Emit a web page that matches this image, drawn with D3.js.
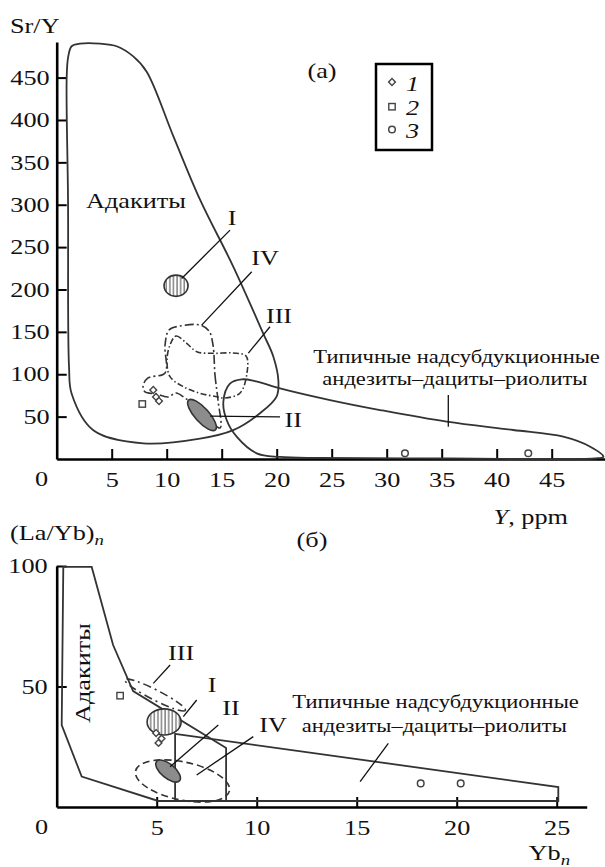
<!DOCTYPE html>
<html>
<head>
<meta charset="utf-8">
<script src="https://cdn.jsdelivr.net/npm/d3@7"></script>
<style>
  body { margin: 0; background: #fff; }
  svg { display: block; }
  text { font-family: "Liberation Serif", "Times New Roman", serif; fill: #111; }
</style>
</head>
<body>
<script>
// ---------- panel (a): Sr/Y vs Y ----------
const srYTicks = [50, 100, 150, 200, 250, 300, 350, 400, 450];
const yPpmTicks = [5, 10, 15, 20, 25, 30, 35, 40, 45];

// field outlines, [Y, Sr/Y]
const adakiteA = [
  [0.91, 451], [1.05, 475], [1.36, 487], [2.12, 490], [3.94, 490], [5.45, 487],
  [6.96, 475], [8.18, 457], [10.6, 381], [13.03, 306], [16.05, 227], [18.78, 148],
  [19.69, 121], [20.15, 93], [20.0, 74], [18.48, 54], [16.05, 34], [13.03, 24],
  [7.87, 18.5], [3.33, 34], [1.36, 77], [1.12, 109], [1.03, 306]
];
const typicalA = [
  [15.15, 67.6], [15.75, 89], [16.82, 94], [18.03, 92], [20.3, 83.4], [24.85, 69.6],
  [29.4, 57.8], [35.45, 44], [41.5, 34.2], [46.05, 26.3], [48.5, 14.5], [49.7, 2.7],
  [48.9, 0.6], [35.75, 0.6], [23.9, 1.2], [20.3, 2.4], [18.18, 6.7], [16.36, 26.3],
  [15.45, 46]
];
const fieldIIIA = [
  [10.3, 134.5], [10.85, 145.1], [11.82, 136.5], [12.73, 126.6], [14.24, 124.7],
  [16.03, 125.1], [17.21, 121.5], [17.3, 101.5], [16.67, 77.9], [15.3, 72],
  [14.55, 73.5], [13.03, 77.5], [11.51, 85.3], [10.3, 97.1], [10.03, 116.8]
];
const fieldIVA = [
  [14.21, 134.5], [14.39, 99.1], [14.66, 69.6], [14.85, 36.6], [13.03, 57.8],
  [11.66, 72], [10.85, 77.9], [10.12, 73.2], [9.03, 76.7], [8.03, 79.1], [7.85, 86.1],
  [8.3, 95.6], [9.85, 101.5], [9.85, 134.5], [10.21, 152.2], [11.21, 156.9],
  [13.03, 158.1], [13.85, 151]
];
// ellipses: [centre x, centre y, half-width (x units), half-height (y units), tilt deg]
const fieldIA = [10.85, 204.4, 1.09, 12.5, 0];
const fieldIIA = [13.21, 51.9, 1.82, 8.3, 48];

const diamondsA = [[8.78, 81.4], [9.03, 73.2], [9.3, 68.4]];
const squaresA = [[7.78, 64.9]];
const circlesA = [[31.66, 6.7], [42.87, 6.7]];

const labelsA = [
  { t: "I", at: [15.94, 276], from: [15.76, 270], to: [11.36, 213] },
  { t: "IV", at: [18.94, 229], from: [17.73, 221], to: [13.18, 158] },
  { t: "III", at: [20.21, 160], from: [19.39, 156], to: [17.42, 125] },
  { t: "II", at: [21.5, 37.8], from: [20.3, 49.6], to: [13.94, 50.7] }
];
const typicalTextA = [[36.35, 112.9], [36.2, 87.3]];
const typicalLeaderA = [[35.6, 75.5], [35.6, 38.1]];
const adakiteTextA = [7.2, 295.8];

// ---------- panel (б): (La/Yb)n vs Ybn ----------
const laYbTicks = [50, 100];
const ybTicks = [5, 10, 15, 20, 25];

const adakiteB = [
  [0.33, 99.6], [1.75, 99.6], [2.82, 67.2], [3.82, 48.1], [8.27, 25.5], [8.47, 24.5],
  [8.47, 2.5], [5.08, 2.5], [1.25, 12.6], [0.25, 34.0]
];
const typicalB = [[5.92, 30.3], [25.08, 8.3], [25.08, 2.5], [5.92, 2.5]];
const fieldIB = [5.37, 35.3, 0.85, 5.4, 0];
const fieldIIB = [5.57, 14.9, 0.75, 2.9, 40];
const fieldIIIB = [4.92, 46.5, 1.7, 2.1, 27];
const fieldIVB = [6.29, 10.8, 2.4, 7.9, 12];

const diamondsB = [[4.97, 30.7], [5.09, 26.6], [5.24, 28.4]];
const squaresB = [[3.17, 46.2]];
const circlesB = [[18.2, 9.8], [20.2, 9.8]];

const labelsB = [
  { t: "III", at: [6.22, 61.0], from: [5.67, 58.9], to: [4.83, 51.3] },
  { t: "I", at: [7.77, 47.8], from: [7.0, 44.4], to: [6.33, 37.5] },
  { t: "II", at: [8.72, 38.2], from: [8.08, 34.0], to: [5.67, 16.7] },
  { t: "IV", at: [10.82, 31.2], from: [9.83, 29.2], to: [7.0, 13.3] }
];
const typicalTextB = [[18.94, 41.0], [18.88, 31.2]];
const typicalLeaderB = [[16.58, 26.4], [15.17, 10.5]];
const adakiteTextB = [1.67, 55.6];

const typicalLines = ["Типичные надсубдукционные", "андезиты\u2013дациты\u2013риолиты"];

// ---------- drawing ----------
const W = 605, H = 867;
const FS = 21;
const K = 1.25; // the scanned glyphs are wider than Liberation Serif

const svg = d3.select("body").append("svg").attr("width", W).attr("height", H);

const defs = svg.append("defs");
const hatch = defs.append("pattern").attr("id", "hatch")
  .attr("patternUnits", "userSpaceOnUse").attr("width", 3.6).attr("height", 4);
hatch.append("rect").attr("width", 3.6).attr("height", 4).attr("fill", "#fff");
hatch.append("line").attr("x1", 1).attr("x2", 1).attr("y1", 0).attr("y2", 4)
  .attr("stroke", "#555").attr("stroke-width", 1.1);

const stretch = (sel, k = K) => {
  sel.each(function () {
    const w = this.getComputedTextLength();
    d3.select(this).attr("textLength", w * k).attr("lengthAdjust", "spacingAndGlyphs");
  });
};

const addText = (g, x, y, str, size = FS, anchor = "middle") => {
  const t = g.append("text").attr("x", x).attr("y", y)
    .attr("font-size", size).attr("text-anchor", anchor).text(str);
  stretch(t);
  return t;
};

const drawPanel = (cfg) => {
  const { xs, ys, g } = cfg;

  // axes
  const yAxis = g.append("g").attr("transform", `translate(${xs(0)},0)`)
    .call(d3.axisLeft(ys).tickValues(cfg.yTicks).tickSizeInner(-10).tickSizeOuter(0).tickPadding(cfg.yPad));
  const xAxis = g.append("g").attr("transform", `translate(0,${ys(0)})`)
    .call(d3.axisBottom(xs).tickValues(cfg.xTicks).tickSizeInner(-10).tickSizeOuter(0).tickPadding(13));
  [yAxis, xAxis].forEach((a) => {
    a.attr("font-size", FS).attr("font-family", null);
    a.select(".domain").attr("stroke", "#000").attr("stroke-width", 2.6);
    a.selectAll(".tick line").attr("stroke", "#000").attr("stroke-width", 2);
    stretch(a.selectAll(".tick text"));
  });
  addText(g, xs(0) - 15, ys(0) + 27, "0");

  const line = (curve) => d3.line().x((d) => xs(d[0])).y((d) => ys(d[1])).curve(curve);

  // fields
  g.append("path").attr("d", line(cfg.curve)(cfg.adakite))
    .attr("fill", "none").attr("stroke", "#333").attr("stroke-width", 1.8);
  g.append("path").attr("d", line(cfg.curve)(cfg.typical))
    .attr("fill", "none").attr("stroke", "#333").attr("stroke-width", 1.8);

  (cfg.outlines || []).forEach((o) => {
    g.append("path").attr("d", line(d3.curveCatmullRomClosed.alpha(0.5))(o.pts))
      .attr("fill", "none").attr("stroke", "#333").attr("stroke-width", 1.6)
      .attr("stroke-dasharray", o.dash);
  });

  const ellipse = (e, style) => {
    const [cx, cy, rx, ry, ang] = e;
    const px = xs(cx), py = ys(cy);
    const el = g.append("ellipse")
      .attr("transform", `translate(${px},${py}) rotate(${ang})`)
      .attr("rx", Math.abs(xs(cx + rx) - px)).attr("ry", Math.abs(ys(cy + ry) - py))
      .attr("stroke", "#333").attr("stroke-width", 1.6);
    Object.entries(style).forEach(([k, v]) => el.attr(k, v));
  };
  (cfg.ellipses || []).forEach((e) => ellipse(e.e, e.style));

  // samples
  g.selectAll(".dia").data(cfg.diamonds).enter().append("rect")
    .attr("x", -2.4).attr("y", -2.4).attr("width", 4.8).attr("height", 4.8)
    .attr("transform", (d) => `translate(${xs(d[0])},${ys(d[1])}) rotate(45)`)
    .attr("fill", "#fff").attr("stroke", "#444").attr("stroke-width", 1.4);
  g.selectAll(".sq").data(cfg.squares).enter().append("rect")
    .attr("x", (d) => xs(d[0]) - 3.2).attr("y", (d) => ys(d[1]) - 3.2)
    .attr("width", 6.4).attr("height", 6.4)
    .attr("fill", "#fff").attr("stroke", "#444").attr("stroke-width", 1.4);
  g.selectAll(".ci").data(cfg.circles).enter().append("circle")
    .attr("cx", (d) => xs(d[0])).attr("cy", (d) => ys(d[1])).attr("r", 3.3)
    .attr("fill", "#fff").attr("stroke", "#444").attr("stroke-width", 1.5);

  // labels and leaders
  cfg.labels.forEach((l) => {
    g.append("line")
      .attr("x1", xs(l.from[0])).attr("y1", ys(l.from[1]))
      .attr("x2", xs(l.to[0])).attr("y2", ys(l.to[1]))
      .attr("stroke", "#111").attr("stroke-width", 1.3);
    addText(g, xs(l.at[0]), ys(l.at[1]), l.t);
  });
  g.append("line")
    .attr("x1", xs(cfg.typLeader[0][0])).attr("y1", ys(cfg.typLeader[0][1]))
    .attr("x2", xs(cfg.typLeader[1][0])).attr("y2", ys(cfg.typLeader[1][1]))
    .attr("stroke", "#111").attr("stroke-width", 1.3);
  typicalLines.forEach((s, i) => {
    addText(g, xs(cfg.typText[i][0]), ys(cfg.typText[i][1]), s, 18);
  });
};

// panel (a)
const xA = d3.scaleLinear().domain([0, 50]).range([56.7, 606.7]);
const yA = d3.scaleLinear().domain([0, 492]).range([459, 42]);
const gA = svg.append("g");
drawPanel({
  xs: xA, ys: yA, g: gA, yTicks: srYTicks, xTicks: yPpmTicks, yPad: 7,
  curve: d3.curveCatmullRomClosed.alpha(0.5),
  adakite: adakiteA, typical: typicalA,
  outlines: [
    { pts: fieldIVA, dash: "9,3,2,3" },
    { pts: fieldIIIA, dash: "6,2.5,1.5,2.5" }
  ],
  ellipses: [
    { e: fieldIA, style: { fill: "url(#hatch)" } },
    { e: fieldIIA, style: { fill: "#8c8c8c" } }
  ],
  diamonds: diamondsA, squares: squaresA, circles: circlesA,
  labels: labelsA, typText: typicalTextA, typLeader: typicalLeaderA
});
addText(gA, xA(adakiteTextA[0]), yA(adakiteTextA[1]), "Адакиты");
addText(gA, 10, 33, "Sr/Y", FS, "start");
addText(gA, 322, 78, "(a)");
const yLab = gA.append("text").attr("x", 568).attr("y", 524)
  .attr("font-size", FS).attr("text-anchor", "end");
yLab.append("tspan").attr("font-style", "italic").text("Y");
yLab.append("tspan").text(", ppm");
stretch(yLab);

// legend
const leg = gA.append("g");
leg.append("rect").attr("x", 376).attr("y", 64).attr("width", 56).attr("height", 86)
  .attr("fill", "none").attr("stroke", "#000").attr("stroke-width", 2.5);
leg.append("rect").attr("x", -2.4).attr("y", -2.4).attr("width", 4.8).attr("height", 4.8)
  .attr("transform", "translate(392,82) rotate(45)")
  .attr("fill", "#fff").attr("stroke", "#444").attr("stroke-width", 1.4);
leg.append("rect").attr("x", 388.8).attr("y", 103.5).attr("width", 6.4).attr("height", 6.4)
  .attr("fill", "#fff").attr("stroke", "#444").attr("stroke-width", 1.4);
leg.append("circle").attr("cx", 392).attr("cy", 129.5).attr("r", 3.3)
  .attr("fill", "#fff").attr("stroke", "#444").attr("stroke-width", 1.5);
["1", "2", "3"].forEach((s, i) => {
  addText(leg, 406, 91 + i * 23.5, s, FS, "start").attr("font-style", "italic");
});

// panel (б)
const xB = d3.scaleLinear().domain([0, 26.5]).range([56.7, 586.7]);
const yB = d3.scaleLinear().domain([0, 100]).range([807, 566]);
const gB = svg.append("g");
drawPanel({
  xs: xB, ys: yB, g: gB, yTicks: laYbTicks, xTicks: ybTicks, yPad: 9,
  curve: d3.curveLinearClosed,
  adakite: adakiteB, typical: typicalB,
  ellipses: [
    { e: fieldIVB, style: { fill: "none", "stroke-dasharray": "7,4" } },
    { e: fieldIIIB, style: { fill: "none", "stroke-dasharray": "8,4,2,4" } },
    { e: fieldIB, style: { fill: "url(#hatch)" } },
    { e: fieldIIB, style: { fill: "#8c8c8c" } }
  ],
  diamonds: diamondsB, squares: squaresB, circles: circlesB,
  labels: labelsB, typText: typicalTextB, typLeader: typicalLeaderB
});
const adB = addText(gB, 0, 0, "Адакиты");
adB.attr("transform", `translate(${xB(adakiteTextB[0])},${yB(adakiteTextB[1])}) rotate(-90)`);
const laLab = gB.append("text").attr("x", 10).attr("y", 540).attr("font-size", FS);
laLab.append("tspan").text("(La/Yb)");
laLab.append("tspan").attr("font-style", "italic").attr("font-size", 15).attr("dy", 5).text("n");
stretch(laLab);
addText(gB, 312, 547, "(б)");
const ybLab = gB.append("text").attr("x", 570).attr("y", 860).attr("font-size", FS)
  .attr("text-anchor", "end");
ybLab.append("tspan").text("Yb");
ybLab.append("tspan").attr("font-style", "italic").attr("font-size", 15).attr("dy", 5).text("n");
stretch(ybLab);
</script>
</body>
</html>
